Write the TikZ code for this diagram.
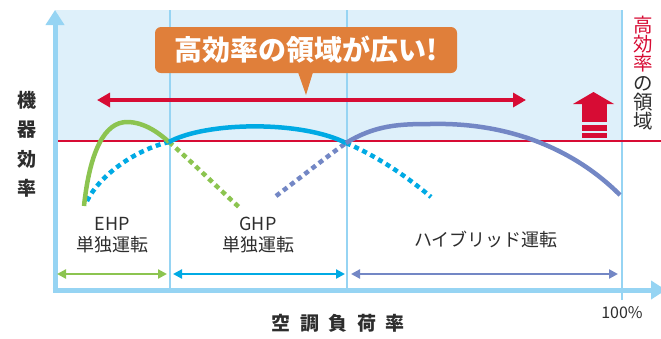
\documentclass[tikz,border=0pt]{standalone}
\usepackage{fontspec}
\setmainfont{Noto Sans CJK JP}
\usepackage{xcolor}
\usepackage{tikz}
\usetikzlibrary{arrows.meta}

\definecolor{bgblue}{RGB}{222,240,250}
\definecolor{axisblue}{RGB}{150,212,243}
\definecolor{effred}{RGB}{215,12,52}
\definecolor{callout}{RGB}{224,127,58}
\definecolor{ehpgreen}{RGB}{140,196,80}
\definecolor{ghpcyan}{RGB}{0,170,228}
\definecolor{hybpurple}{RGB}{115,135,197}
\definecolor{textgray}{RGB}{45,45,45}

\begin{document}
\begin{tikzpicture}[x=1pt, y=-1pt,
        axis/.style={line width=5pt, draw=axisblue, -{Triangle[length=15pt,width=18pt]}},
        divider/.style={line width=2.5pt, draw=axisblue},
        curve/.style={line width=4.5pt},
        dots/.style={line width=4.5pt, dash pattern=on 5pt off 4pt},
        span/.style={line width=2.5pt, {Triangle[length=9pt,width=9pt]}-{Triangle[length=9pt,width=9pt]}},
        label/.style={font=\fontsize{18}{21}\selectfont, text=textgray, align=center}]
        \useasboundingbox (0,0) rectangle (661,338);

        % high efficiency region
        \fill[bgblue] (55,10) rectangle (622,141);
        \draw[divider] (170,10) -- (170,290);
        \draw[divider] (347,10) -- (347,290);
        \draw[divider] (622,10) -- (622,300);
        \draw[line width=2pt, effred] (57,141) -- (661,141);

        % axes
        \draw[axis] (55,292.5) -- (55,10);
        \draw[axis] (52.5,290) -- (666,290);

        % curves
        \coordinate (ehpstart) at (84,206);
        \coordinate (ehpend)   at (240,208);
        \coordinate (ghpstart) at (87,201);
        \coordinate (ghpend)   at (431,197);
        \coordinate (hybstart) at (276,196);
        \coordinate (hybend)   at (620,195);
        \coordinate (ehpx) at (169,142);
        \coordinate (ghpx) at (346,143);

        \draw[dots, ehpgreen] (ehpx) .. controls (190,160) and (220,190) .. (ehpend);
        \draw[dots, ghpcyan] (ghpstart) .. controls (100,175) and (135,150) .. (ehpx);
        \draw[dots, ghpcyan] (ghpx) .. controls (375,155) and (405,175) .. (ghpend);
        \draw[dots, hybpurple] (hybstart) .. controls (300,178) and (325,158) .. (ghpx);
        \draw[curve, ehpgreen] (ehpstart) .. controls (90,150) and (105,122) .. (127,122)
            .. controls (145,122) and (160,134) .. (ehpx);
        \draw[curve, ghpcyan] (ehpx) .. controls (205,122) and (300,120) .. (ghpx);
        \draw[curve, hybpurple] (ghpx) .. controls (375,125) and (400,124) .. (430,124)
            .. controls (510,122) and (575,150) .. (hybend);

        % wide region arrow and callout
        \coordinate (wideL) at (97,100);
        \coordinate (wideR) at (526,100);
        \draw[line width=3.5pt, effred, {Triangle[length=13pt,width=14pt]}-{Triangle[length=13pt,width=14pt]}] (wideL) -- (wideR);
        \node[fill=callout, rounded corners=6pt, minimum width=302pt, minimum height=46pt,
            text=white, font=\fontsize{28}{30}\selectfont\bfseries] (title) at (306,50) {高効率の領域が広い!};
        \coordinate (tip) at (306,95);
        \fill[callout] ([xshift=-8pt,yshift=1pt]title.south) -- (tip) -- ([xshift=7pt,yshift=1pt]title.south) -- cycle;

        % up arrow icon
        \fill[effred] (573,104) -- (593.5,92) -- (614,104) -- cycle;
        \fill[effred] (582,103.5) rectangle (607,122);
        \fill[effred] (582,125) rectangle (607,131);
        \fill[effred] (582,133) rectangle (607,138);

        % operation ranges
        \coordinate (s0) at (57,274);
        \coordinate (s1) at (167,274);
        \coordinate (s2) at (173,274);
        \coordinate (s3) at (345,274);
        \coordinate (s4) at (351,274);
        \coordinate (s5) at (618,274);
        \draw[span, ehpgreen] (s0) -- (s1);
        \draw[span, ghpcyan] (s2) -- (s3);
        \draw[span, hybpurple] (s4) -- (s5);

        % texts
        \node[label] (ehp) at (112,235.5) {EHP\\単独運転};
        \node[label] (ghp) at (258,235.5) {GHP\\単独運転};
        \node[label] (hyb) at (486,240) {ハイブリッド運転};
        \node[font=\fontsize{19}{29.5}\selectfont\bfseries, text=textgray, align=center] (yname) at (27,144.5) {機\\器\\効\\率};
        \node[font=\fontsize{19}{22}\selectfont\bfseries, text=textgray] (xname) at (338,323) {空\enspace 調\enspace 負\enspace 荷\enspace 率};
        \node[font=\fontsize{16}{18}\selectfont, text=textgray] (full) at (622,313) {100\%};
        \node[font=\fontsize{19.5}{19.3}\selectfont, text=textgray, align=center] (rname) at (643,73)
            {\textcolor{effred}{高}\\\textcolor{effred}{効}\\\textcolor{effred}{率}\\の\\領\\域};
\end{tikzpicture}
\end{document}
